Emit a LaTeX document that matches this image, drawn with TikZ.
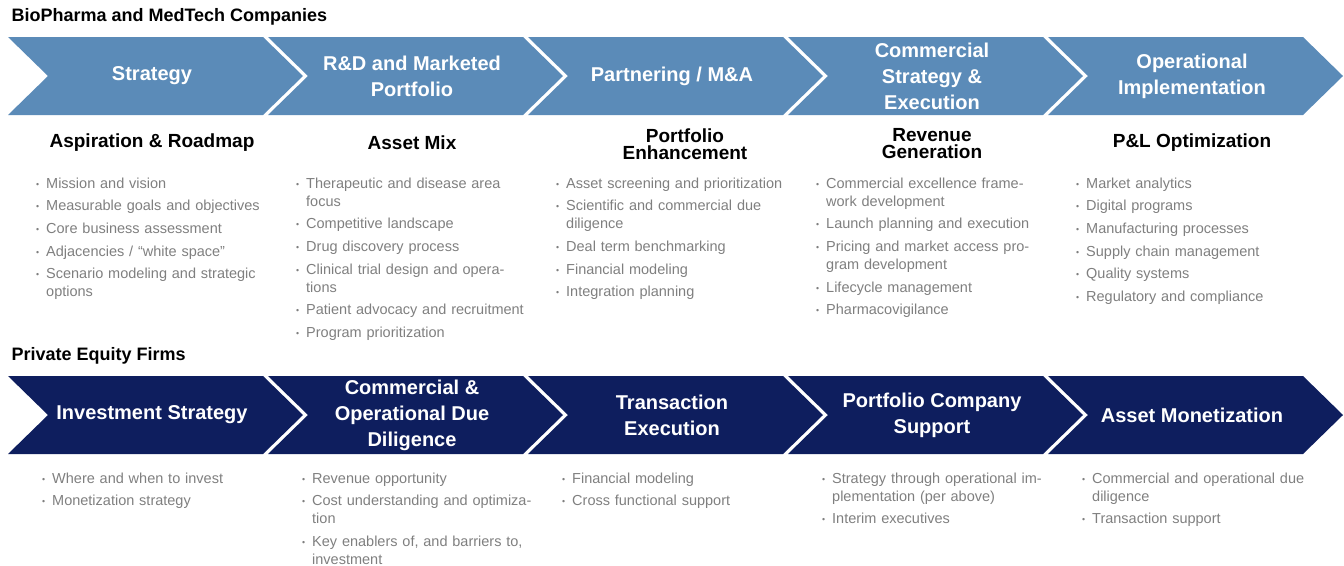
\documentclass[tikz,border=0pt]{standalone}
\usepackage{fontspec}
\setmainfont{Liberation Sans}
\definecolor{lb}{HTML}{5B8BB8}
\definecolor{nv}{HTML}{0E1E5E}
\definecolor{gt}{HTML}{7F7F7F}
\newcommand\bi[1]{\par\hangindent=10pt\hangafter=1\noindent\makebox[10pt][l]{\raisebox{1pt}{\scalebox{0.6}{\textbullet}}}#1\par\vspace{4.6pt}}
\tikzset{
 chev/.style={fill=#1,draw=none},
 ctitle/.style={text=white,font=\fontsize{20}{26}\selectfont\bfseries,align=center},
 hdr/.style={font=\fontsize{19}{17}\selectfont\bfseries,align=center},
 sec/.style={font=\fontsize{18}{20}\selectfont\bfseries,anchor=west},
 lst/.style={text=gt,font=\fontsize{14.5}{18}\selectfont,text width=230pt,align=left,anchor=north west,inner sep=0pt},
}
\newcommand\chevshape[3]{% x0, ytop, color
 \fill[#3] (#1,#2) -- ++(255,0) -- ++(40,39) -- ++(-40,39) -- ++(-255,0) -- ++(40,-39) -- cycle;}
\begin{document}
\begin{tikzpicture}[x=1pt,y=-1pt]
\useasboundingbox (0,0) rectangle (1344,565);
\node[sec] (s1) at (8,17) {BioPharma and MedTech Companies};
\node[sec] (s2) at (8,356) {Private Equity Firms};
\foreach \i in {0,...,4}{
 \chevshape{8+260*\i}{37}{lb}
 \chevshape{8+260*\i}{376}{nv}
}
\node[ctitle] (t1) at (152,76) {Strategy};
\node[ctitle] (t2) at (412,76) {R\&D and Marketed\\Portfolio};
\node[ctitle] (t3) at (672,76) {Partnering / M\&A};
\node[ctitle] (t4) at (932,76) {Commercial\\Strategy \&\\Execution};
\node[ctitle] (t5) at (1192,76) {Operational\\Implementation};
\node[ctitle] (b1) at (152,415) {Investment Strategy};
\node[ctitle] (b2) at (412,415) {Commercial \&\\Operational Due\\Diligence};
\node[ctitle] (b3) at (672,415) {Transaction\\Execution};
\node[ctitle] (b4) at (932,415) {Portfolio Company\\Support};
\node[ctitle] (b5) at (1192,415) {Asset Monetization};
\node[hdr] (h1) at (152,143) {Aspiration \& Roadmap};
\node[hdr] (h2) at (412,143) {Asset Mix};
\node[hdr] (h3) at (685,144) {Portfolio\\Enhancement};
\node[hdr] (h4) at (932,144) {Revenue\\Generation};
\node[hdr] (h5) at (1192,143) {P\&L Optimization};
\node[lst] (l1) at (36,170) {\bi{Mission and vision}\bi{Measurable goals and objectives}\bi{Core business assessment}\bi{Adjacencies / “white space”}\bi{Scenario modeling and strategic options}};
\node[lst] (l2) at (296,170) {\bi{Therapeutic and disease area focus}\bi{Competitive landscape}\bi{Drug discovery process}\bi{Clinical trial design and operations}\bi{Patient advocacy and recruitment}\bi{Program prioritization}};
\node[lst] (l3) at (556,170) {\bi{Asset screening and prioritization}\bi{Scientific and commercial due diligence}\bi{Deal term benchmarking}\bi{Financial modeling}\bi{Integration planning}};
\node[lst] (l4) at (816,170) {\bi{Commercial excellence framework development}\bi{Launch planning and execution}\bi{Pricing and market access program development}\bi{Lifecycle management}\bi{Pharmacovigilance}};
\node[lst] (l5) at (1076,170) {\bi{Market analytics}\bi{Digital programs}\bi{Manufacturing processes}\bi{Supply chain management}\bi{Quality systems}\bi{Regulatory and compliance}};
\node[lst] (m1) at (42,465) {\bi{Where and when to invest}\bi{Monetization strategy}};
\node[lst] (m2) at (302,465) {\bi{Revenue opportunity}\bi{Cost understanding and optimization}\bi{Key enablers of, and barriers to, investment}};
\node[lst] (m3) at (562,465) {\bi{Financial modeling}\bi{Cross functional support}};
\node[lst] (m4) at (822,465) {\bi{Strategy through operational implementation (per above)}\bi{Interim executives}};
\node[lst] (m5) at (1082,465) {\bi{Commercial and operational due diligence}\bi{Transaction support}};
\end{tikzpicture}
\end{document}
